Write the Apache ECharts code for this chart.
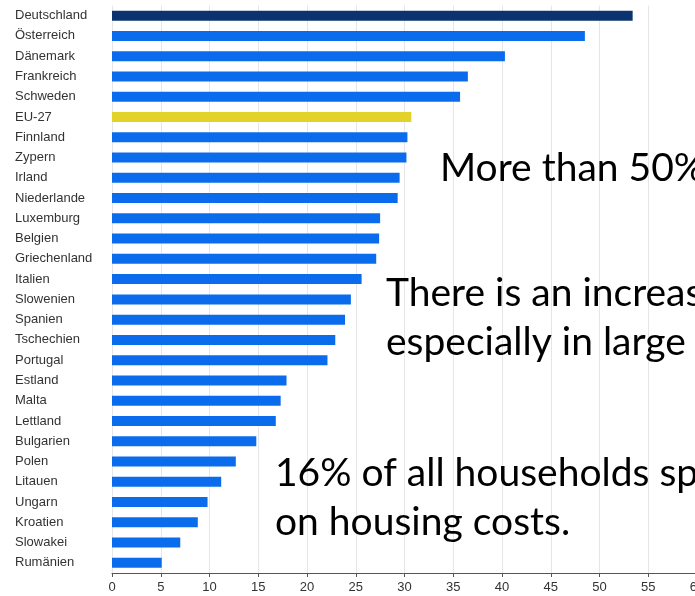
<!DOCTYPE html>
<html>
<head>
<meta charset="utf-8">
<script src="https://cdn.jsdelivr.net/npm/echarts@6/dist/echarts.min.js"></script>
<style>
html,body{margin:0;padding:0;background:#fff;}
#chart{width:695px;height:596px;}
</style>
</head>
<body>
<div id="chart"></div>
<script>
const countries = ["Deutschland","Österreich","Dänemark","Frankreich","Schweden","EU-27","Finnland","Zypern","Irland","Niederlande","Luxemburg","Belgien","Griechenland","Italien","Slowenien","Spanien","Tschechien","Portugal","Estland","Malta","Lettland","Bulgarien","Polen","Litauen","Ungarn","Kroatien","Slowakei","Rumänien"];
const values = [53.4,48.5,40.3,36.5,35.7,30.7,30.3,30.2,29.5,29.3,27.5,27.4,27.1,25.6,24.5,23.9,22.9,22.1,17.9,17.3,16.8,14.8,12.7,11.2,9.8,8.8,7.0,5.1];
const xTicks = [0,5,10,15,20,25,30,35,40,45,50,55,60];
const overlayLines = ["More than 50%","There is an increas","especially in large","16% of all households sp","on housing costs."];

const colorOf = name => name === "Deutschland" ? "#0b3370" : (name === "EU-27" ? "#e3d22a" : "#0a6ced");

const chart = echarts.init(document.getElementById('chart'), null, {renderer:'canvas'});
const S = 39;
const textFont = S + 'px Lato';
const lineSpec = [[440,181],[386,306],[386,355],[275,486],[275,535]];
const graphics = overlayLines.map((t,i)=>({
  type:'text', x:lineSpec[i][0], y:lineSpec[i][1] - 0.33*S, z:100,
  style:{text:t, font:textFont, fill:'#000', verticalAlign:'middle', align:'left'}
}));
chart.setOption({
  animation:false,
  backgroundColor:'#fff',
  grid:{left:112, top:5.5, width:585, bottom:23, containLabel:false, outerBoundsMode:'none'},
  xAxis:{
    type:'value', min:xTicks[0], max:xTicks[xTicks.length-1], interval:5,
    axisLine:{show:true, lineStyle:{color:'#555', width:1}},
    axisTick:{show:true, length:4, lineStyle:{color:'#555'}},
    axisLabel:{color:'#333', fontSize:13, fontFamily:'Liberation Sans', margin:8},
    splitLine:{show:true, lineStyle:{color:'#e6e6e6', width:1}}
  },
  yAxis:{
    type:'category', data:countries, inverse:true,
    axisLine:{show:false}, axisTick:{show:false},
    axisLabel:{color:'#333', fontSize:13, fontFamily:'Liberation Sans', align:'left', margin:97}
  },
  series:[{
    type:'bar', barWidth:10,
    data: values.map((v,i)=>({value:v, itemStyle:{color:colorOf(countries[i])}}))
  }],
  graphic: graphics
});
</script>
</body>
</html>
